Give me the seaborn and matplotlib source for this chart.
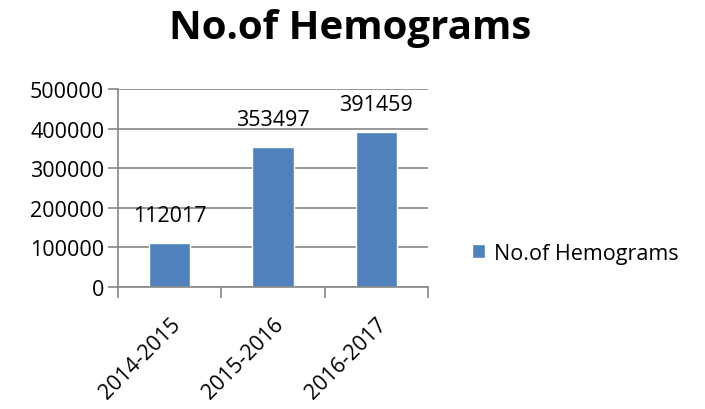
import pandas as pd
import seaborn as sns
import matplotlib.pyplot as plt

# Data
years = ['2014-2015', '2015-2016', '2016-2017']
counts = [112017, 353497, 391459]
series_name = 'No.of Hemograms'

df = pd.DataFrame({'Year': years, 'Count': counts})

sns.set_style('white')
plt.rcParams['font.family'] = ['Open Sans', 'DejaVu Sans']
plt.rcParams['text.color'] = 'black'
plt.rcParams['xtick.color'] = 'black'
plt.rcParams['ytick.color'] = 'black'

fig = plt.figure(figsize=(7.05, 4.1), dpi=100)
ax = fig.add_axes([0.1674, 0.2976, 0.4397, 0.4829])

sns.barplot(data=df, x='Year', y='Count', color='#4F81BD', width=0.4,
            label=series_name, ax=ax, saturation=1)

ax.set_ylim(0, 500000)
ax.set_xlim(-0.5, 2.5)
ax.set_yticks(range(0, 500001, 100000))
ax.yaxis.grid(True, color='#868686', linewidth=1.2)
ax.set_axisbelow(True)
ax.set_xlabel('')
ax.set_ylabel('')

for side in ['top', 'right']:
    ax.spines[side].set_visible(False)
for side in ['left', 'bottom']:
    ax.spines[side].set_color('#868686')
    ax.spines[side].set_linewidth(1.2)

# category boundary ticks like Excel
ax.set_xticks([-0.5, 0.5, 1.5, 2.5], minor=False)
ax.set_xticklabels([])
ax.set_xticks([0, 1, 2], minor=True)
ax.set_xticklabels(years, minor=True, rotation=45, ha='right',
                   rotation_mode='anchor', fontsize=15.5)
ax.tick_params(axis='x', which='major', length=8, width=1.2, color='#868686',
               direction='out', bottom=True)
ax.tick_params(axis='x', which='minor', length=0, pad=19)
ax.tick_params(axis='y', length=7, width=1.2, color='#868686', labelsize=15.5,
               labelcolor='black', left=True, pad=3)

for cont in ax.containers:
    ax.bar_label(cont, labels=[str(v) for v in counts], padding=12,
                 fontsize=15.5)

fig.text(0.497, 0.93, 'No.of Hemograms', ha='center', va='center',
         fontsize=29, fontweight='bold')

ax.legend(loc='center left', bbox_to_anchor=(1.08, 0.17), frameon=False,
          fontsize=15.5, handlelength=0.6, handleheight=0.6, handletextpad=0.4)

fig.savefig('out.png', dpi=100)
